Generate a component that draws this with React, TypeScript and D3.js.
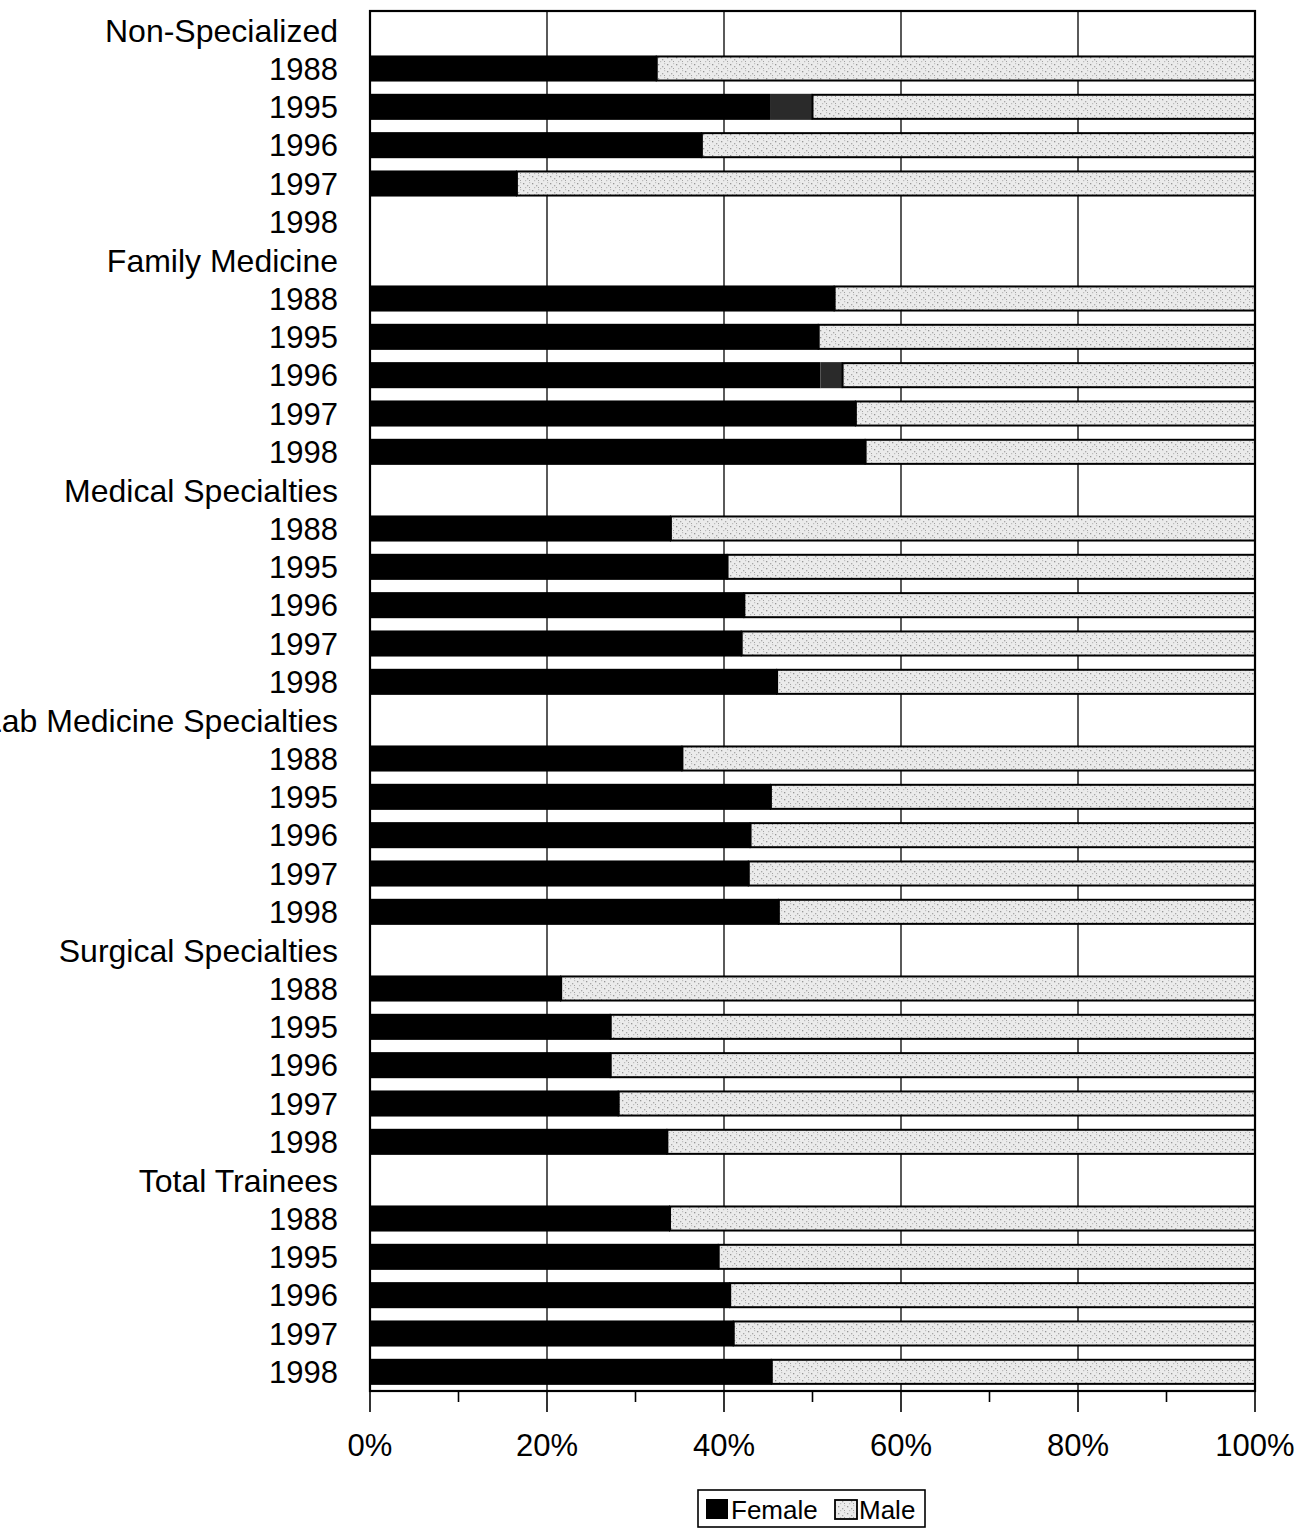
import React from "react";
import * as d3 from "d3";

const groups = [
  "Non-Specialized",
  "Family Medicine",
  "Medical Specialties",
  "Lab Medicine Specialties",
  "Surgical Specialties",
  "Total Trainees",
];
const years = ["1988", "1995", "1996", "1997", "1998"];

// percent female per group/year (null = no data)
const female: (number | null)[][] = [
  [32.4, 45.2, 37.5, 16.6, null],
  [52.5, 50.7, 50.9, 54.9, 56.0],
  [34.0, 40.4, 42.3, 42.0, 46.0],
  [35.3, 45.3, 43.0, 42.8, 46.2],
  [21.6, 27.2, 27.2, 28.1, 33.6],
  [33.9, 39.4, 40.7, 41.1, 45.4],
];
// unlabelled dark segment
const other: (number | null)[][] = [
  [0, 4.8, 0, 0, null],
  [0, 0, 2.5, 0, 0],
  [0, 0, 0, 0, 0],
  [0, 0, 0, 0, 0],
  [0, 0, 0, 0, 0],
  [0, 0, 0, 0, 0],
];
const male: (number | null)[][] = [
  [67.6, 50.0, 62.5, 83.4, null],
  [47.5, 49.3, 46.6, 45.1, 44.0],
  [66.0, 59.6, 57.7, 58.0, 54.0],
  [64.7, 54.7, 57.0, 57.2, 53.8],
  [78.4, 72.8, 72.8, 71.9, 66.4],
  [66.1, 60.6, 59.3, 58.9, 54.6],
];
const majorTicks = [0, 20, 40, 60, 80, 100];
const minorTicks = [10, 30, 50, 70, 90];

type Row = { id: string; label: string; g: number; y: number | null };

export default function App() {
  const W = 1299;
  const H = 1529;
  const left = 370;
  const right = 1255;
  const top = 11;
  const bottom = 1391;

  const rows: Row[] = [];
  groups.forEach((g, gi) => {
    rows.push({ id: `g${gi}`, label: g, g: gi, y: null });
    years.forEach((yr, yi) => rows.push({ id: `g${gi}y${yi}`, label: yr, g: gi, y: yi }));
  });

  const x = d3.scaleLinear().domain([0, 100]).range([left, right]);
  const y = d3
    .scaleBand<string>()
    .domain(rows.map((r) => r.id))
    .range([top, bottom])
    .paddingInner(0.32)
    .paddingOuter(0.16);
  const bw = y.bandwidth();
  const font = "'Liberation Sans', Arial, sans-serif";

  const bars: React.ReactNode[] = [];
  rows.forEach((r) => {
    if (r.y === null) return;
    const f = female[r.g][r.y];
    if (f === null) return;
    const o = other[r.g][r.y] ?? 0;
    const m = male[r.g][r.y] ?? 0;
    const y0 = y(r.id)!;
    bars.push(
      <g key={r.id}>
        <rect x={x(0)} y={y0} width={x(f) - x(0)} height={bw} fill="#000" />
        {o > 0 && (
          <rect x={x(f)} y={y0} width={x(f + o) - x(f)} height={bw} fill="#2a2a2a" />
        )}
        <rect
          x={x(f + o)}
          y={y0 + 1}
          width={x(f + o + m) - x(f + o)}
          height={bw - 2}
          fill="url(#stip)"
          stroke="#000"
          strokeWidth={2}
        />
      </g>
    );
  });

  return (
    <svg
      width={W}
      height={H}
      style={{ position: "absolute", left: 0, top: 0, background: "#fff" }}
      fontFamily={font}
    >
      <defs>
        <pattern id="stip" width="9" height="7" patternUnits="userSpaceOnUse">
          <rect width="9" height="7" fill="#ebebeb" />
          <rect x="1" y="1" width="1.3" height="1.3" fill="#959595" />
          <rect x="5" y="3" width="1.3" height="1.3" fill="#a8a8a8" />
          <rect x="3" y="5" width="1.2" height="1.2" fill="#bcbcbc" />
          <rect x="7" y="0" width="1.2" height="1.2" fill="#c2c2c2" />
          <rect x="7" y="5" width="1" height="1" fill="#a0a0a0" />
        </pattern>
      </defs>

      <rect x={left} y={top} width={right - left} height={bottom - top} fill="#fff" />

      {majorTicks
        .filter((t) => t > 0 && t < 100)
        .map((t) => (
          <line key={t} x1={x(t)} x2={x(t)} y1={top} y2={bottom} stroke="#000" strokeWidth={1.3} />
        ))}

      {bars}

      <rect
        x={left}
        y={top}
        width={right - left}
        height={bottom - top}
        fill="none"
        stroke="#000"
        strokeWidth={2.2}
      />

      {majorTicks.map((t) => (
        <line key={`M${t}`} x1={x(t)} x2={x(t)} y1={bottom} y2={bottom + 21} stroke="#000" strokeWidth={1.6} />
      ))}
      {minorTicks.map((t) => (
        <line key={`m${t}`} x1={x(t)} x2={x(t)} y1={bottom} y2={bottom + 11} stroke="#000" strokeWidth={1.6} />
      ))}
      {majorTicks.map((t) => (
        <text key={`t${t}`} x={x(t)} y={1456} textAnchor="middle" fontSize={31} fill="#000">
          {t}%
        </text>
      ))}

      {rows.map((r) => (
        <text
          key={`l${r.id}`}
          x={338}
          y={y(r.id)! + bw / 2}
          dy="0.36em"
          textAnchor="end"
          fontSize={r.y === null ? 32 : 31}
          fill="#000"
        >
          {r.label}
        </text>
      ))}

      <g>
        <rect x={698} y={1490} width={227} height={37} fill="#fff" stroke="#000" strokeWidth={1.6} />
        <rect x={706} y={1499} width={22} height={20} fill="#000" />
        <text x={731} y={1519} fontSize={26} fill="#000">
          Female
        </text>
        <rect x={835} y={1500} width={22} height={19} fill="url(#stip)" stroke="#000" strokeWidth={1.8} />
        <text x={859} y={1519} fontSize={26} fill="#000">
          Male
        </text>
      </g>
    </svg>
  );
}
